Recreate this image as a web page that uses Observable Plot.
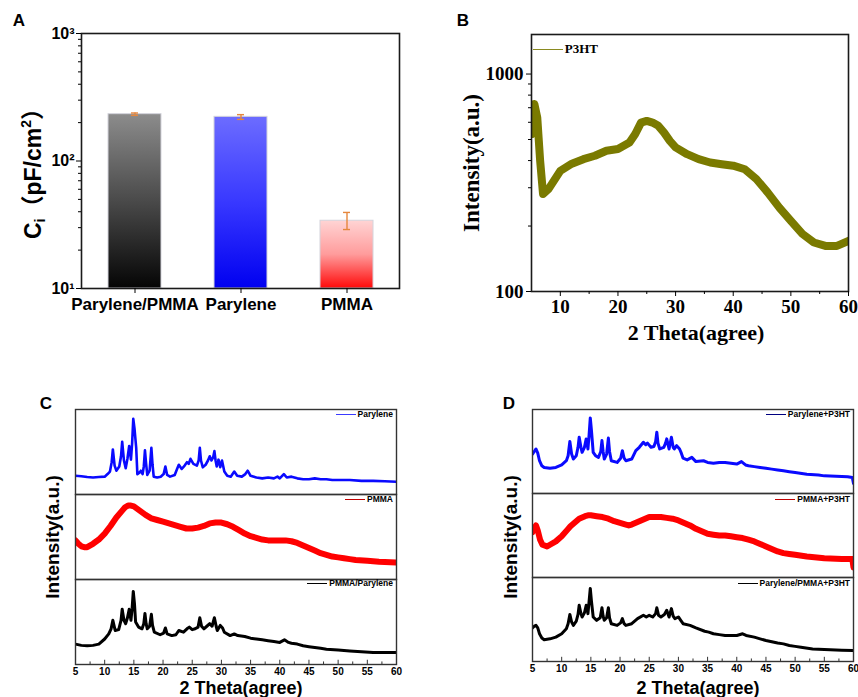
<!DOCTYPE html>
<html><head><meta charset="utf-8">
<script src="https://cdn.jsdelivr.net/npm/d3@7"></script>
<script src="https://cdn.jsdelivr.net/npm/@observablehq/plot@0.6"></script>
<style>
body{margin:0;background:#fff;}
#fig{position:relative;width:858px;height:697px;overflow:hidden;background:#fff;font-family:"Liberation Sans",Arial,"Noto Sans CJK SC",sans-serif;color:#000;}
.panel{position:absolute;}
.panel svg{overflow:visible;}
.lbl{position:absolute;white-space:nowrap;transform:translate(-50%,-50%);line-height:1;}
.rot{transform:translate(-50%,-50%) rotate(-90deg);}
.leg{position:absolute;display:flex;align-items:center;white-space:nowrap;transform:translateY(-50%);line-height:1;}
.leg i{display:inline-block;height:0;border-top-style:solid;border-top-width:1.6px;margin-right:2px;}
</style></head><body><div id="fig"></div>
<script>
// ---------- Panel A data ----------
const capCategories = ["Parylene/PMMA", "Parylene", "PMMA"];
const capValues = [233, 222, 34];
const capErrLow = [228, 212, 29];
const capErrHigh = [238, 231, 39.5];
const capMajorTicks = [10, 100, 1000];
const capTickLabels = ["10¹", "10²", "10³"];
const capMinorTicks = [20, 30, 40, 50, 60, 70, 80, 90, 200, 300, 400, 500, 600, 700, 800, 900];

// ---------- Panel B data (P3HT, 2θ in degrees, intensity a.u.) ----------
const p3htTheta = [5, 5.5, 6, 6.5, 7, 8, 10, 12, 14, 16, 18, 20, 22, 23, 24, 25, 26, 27, 28, 29, 30, 32, 34, 36, 38, 40, 42, 44, 46, 48, 50, 52, 54, 56, 58, 60];
const p3htIntensity = [530, 728, 631, 399, 281, 297, 359, 387, 406, 421, 444, 452, 484, 530, 598, 609, 598, 578, 538, 493, 460, 428, 406, 392, 385, 379, 365, 329, 285, 243, 211, 184, 168, 162, 162, 171];
const bMajorX = [10, 20, 30, 40, 50, 60];
const bMinorX = [15, 25, 35, 45, 55];
const bMajorY = [100, 1000];
const bMinorY = [200, 300, 400, 500, 600, 700, 800, 900];

// ---------- Panel C data (relative intensity within each stacked pane) ----------
const cParylene = [[5,0.22],[6,0.215],[7,0.205],[8,0.2],[9,0.205],[10,0.21],[10.5,0.24],[10.9,0.27],[11.2,0.38],[11.4,0.53],[11.7,0.34],[12,0.28],[12.5,0.33],[12.8,0.45],[13,0.62],[13.3,0.4],[13.6,0.31],[13.9,0.42],[14.2,0.57],[14.5,0.41],[14.7,0.6],[14.9,0.89],[15.1,0.78],[15.4,0.55],[15.6,0.24],[16,0.26],[16.2,0.28],[16.5,0.24],[16.7,0.33],[16.9,0.52],[17.1,0.36],[17.3,0.23],[17.7,0.28],[18,0.55],[18.2,0.35],[18.4,0.21],[19,0.2],[19.6,0.21],[20.1,0.24],[20.4,0.33],[20.7,0.23],[21.2,0.21],[22,0.23],[22.4,0.3],[22.7,0.35],[23.2,0.3],[23.7,0.34],[24.1,0.38],[24.4,0.36],[24.7,0.42],[25.2,0.36],[25.8,0.34],[26.1,0.4],[26.3,0.55],[26.5,0.4],[26.8,0.32],[27.3,0.35],[27.7,0.4],[28,0.45],[28.3,0.4],[28.6,0.44],[28.8,0.51],[29,0.4],[29.2,0.33],[29.5,0.41],[29.8,0.32],[30.1,0.4],[30.5,0.27],[31,0.22],[31.6,0.21],[32.2,0.27],[32.7,0.22],[33.5,0.21],[34.1,0.24],[34.5,0.28],[35,0.22],[36,0.2],[37,0.19],[38,0.2],[39,0.19],[39.6,0.21],[40,0.19],[40.7,0.24],[41.2,0.2],[42,0.21],[43,0.19],[44,0.18],[45,0.18],[46,0.19],[47,0.18],[48,0.18],[49,0.17],[50,0.17],[52,0.17],[54,0.16],[56,0.16],[58,0.155],[60,0.15]];
const cPMMA = [[5,0.46],[5.5,0.42],[6,0.39],[6.5,0.38],[7,0.38],[8,0.42],[9,0.47],[10,0.54],[11,0.63],[12,0.73],[13,0.81],[13.5,0.85],[14,0.87],[14.5,0.87],[15,0.86],[16,0.81],[17,0.76],[18,0.72],[19,0.7],[20,0.68],[21,0.66],[22,0.64],[23,0.62],[24,0.6],[25,0.6],[26,0.61],[27,0.63],[28,0.66],[29,0.67],[30,0.67],[31,0.65],[32,0.62],[33,0.58],[34,0.54],[35,0.51],[36,0.49],[37,0.47],[38,0.46],[39,0.46],[40,0.46],[41,0.46],[42,0.45],[43,0.43],[44,0.4],[45,0.37],[46,0.34],[47,0.31],[48,0.29],[49,0.27],[50,0.26],[51,0.25],[52,0.24],[53,0.23],[55,0.22],[57,0.21],[60,0.2]];
const cPMMAParylene = [[5,0.24],[6,0.225],[7,0.22],[8,0.225],[9,0.24],[10,0.3],[10.7,0.36],[11.1,0.42],[11.4,0.52],[11.8,0.4],[12.4,0.41],[12.8,0.52],[13,0.65],[13.3,0.52],[13.6,0.48],[13.9,0.55],[14.2,0.65],[14.5,0.52],[14.7,0.66],[14.9,0.86],[15.1,0.72],[15.3,0.5],[15.8,0.44],[16.4,0.42],[16.7,0.48],[16.9,0.6],[17.1,0.48],[17.3,0.42],[17.7,0.45],[18,0.59],[18.2,0.46],[18.5,0.38],[19.5,0.35],[20.1,0.37],[20.4,0.43],[20.7,0.36],[21.5,0.34],[22.2,0.35],[22.7,0.4],[23.5,0.38],[24.1,0.42],[24.5,0.44],[25,0.41],[25.5,0.42],[26,0.44],[26.3,0.55],[26.6,0.45],[27,0.42],[27.5,0.45],[28,0.48],[28.4,0.45],[28.8,0.55],[29.1,0.45],[29.3,0.4],[29.8,0.46],[30.2,0.43],[30.5,0.38],[31.5,0.34],[32.2,0.36],[32.8,0.34],[34,0.33],[35,0.31],[36,0.3],[37,0.29],[38,0.28],[39,0.27],[40,0.26],[40.8,0.29],[41.5,0.26],[42,0.25],[43,0.24],[44,0.22],[45,0.21],[46,0.2],[47,0.19],[48,0.18],[50,0.17],[52,0.16],[54,0.15],[56,0.14],[58,0.14],[60,0.14]];

// ---------- Panel D data ----------
const dParyleneP3HT = [[5,0.47],[5.3,0.5],[5.6,0.53],[5.9,0.48],[6.2,0.39],[6.6,0.33],[7,0.31],[8,0.3],[9,0.31],[10,0.34],[10.8,0.39],[11.1,0.45],[11.4,0.62],[11.7,0.47],[12,0.41],[12.5,0.45],[12.8,0.55],[13,0.67],[13.3,0.55],[13.5,0.49],[13.9,0.55],[14.2,0.65],[14.5,0.53],[14.7,0.7],[14.9,0.9],[15.1,0.75],[15.4,0.49],[15.8,0.45],[16.3,0.43],[16.7,0.5],[16.9,0.63],[17.1,0.5],[17.3,0.41],[17.7,0.47],[18,0.66],[18.2,0.5],[18.5,0.39],[19.5,0.37],[20.1,0.42],[20.4,0.51],[20.7,0.42],[21,0.39],[22,0.41],[22.7,0.51],[23.3,0.55],[24,0.61],[24.4,0.58],[24.7,0.6],[25.3,0.55],[25.8,0.56],[26.1,0.62],[26.3,0.73],[26.5,0.6],[26.8,0.53],[27.5,0.55],[27.8,0.6],[28,0.65],[28.4,0.53],[28.6,0.6],[28.8,0.67],[29.1,0.55],[29.3,0.53],[29.7,0.57],[30.2,0.53],[30.5,0.48],[30.8,0.42],[31.5,0.4],[32.3,0.43],[33,0.38],[34.3,0.39],[35,0.37],[36,0.36],[37,0.37],[38,0.37],[39,0.36],[40,0.35],[40.8,0.38],[41.5,0.34],[42,0.33],[43,0.32],[44,0.31],[45,0.3],[46,0.29],[47,0.28],[48,0.27],[49,0.26],[50,0.25],[52,0.23],[54,0.22],[55,0.21],[57,0.205],[59,0.2],[59.8,0.19],[60,0.12]];
const dPMMAP3HT = [[5,0.54],[5.3,0.59],[5.6,0.62],[5.9,0.56],[6.3,0.45],[6.7,0.39],[7.5,0.37],[8,0.39],[9,0.43],[10,0.49],[11,0.57],[11.5,0.61],[12,0.64],[13,0.7],[14,0.73],[14.5,0.74],[15,0.74],[16,0.73],[17,0.72],[18,0.7],[19,0.67],[20,0.65],[21,0.63],[21.5,0.62],[22,0.63],[23,0.66],[24,0.69],[25,0.72],[26,0.72],[27,0.72],[28,0.71],[29,0.7],[30,0.68],[31,0.65],[32,0.62],[33,0.58],[34,0.55],[35,0.52],[36,0.51],[37,0.5],[38,0.5],[39,0.49],[40,0.48],[41,0.47],[42,0.45],[43,0.43],[44,0.4],[45,0.37],[46,0.34],[47,0.31],[48,0.29],[49,0.28],[50,0.27],[52,0.25],[55,0.23],[58,0.22],[59.8,0.22],[60,0.12]];
const dMixP3HT = [[5,0.4],[5.3,0.42],[5.6,0.43],[5.9,0.4],[6.2,0.33],[6.6,0.28],[7,0.26],[8,0.27],[9,0.29],[10,0.33],[10.8,0.39],[11.1,0.45],[11.4,0.56],[11.7,0.47],[12,0.43],[12.5,0.48],[12.8,0.56],[13,0.67],[13.3,0.57],[13.5,0.53],[13.9,0.58],[14.2,0.67],[14.5,0.57],[14.7,0.72],[14.9,0.87],[15.1,0.72],[15.4,0.53],[16,0.49],[16.6,0.52],[16.9,0.64],[17.1,0.54],[17.3,0.49],[17.7,0.52],[18,0.64],[18.2,0.52],[18.5,0.45],[19.5,0.43],[20.1,0.46],[20.4,0.51],[20.7,0.45],[21,0.43],[22,0.45],[23,0.51],[24,0.55],[24.5,0.53],[25,0.55],[25.6,0.53],[26.1,0.57],[26.3,0.64],[26.6,0.55],[27,0.53],[27.6,0.56],[28,0.61],[28.4,0.53],[28.8,0.63],[29.1,0.54],[29.4,0.51],[30,0.53],[30.4,0.49],[30.8,0.45],[32,0.43],[33,0.4],[34.5,0.36],[35.2,0.35],[36,0.33],[37,0.32],[38,0.31],[39,0.31],[40,0.31],[41,0.33],[41.6,0.31],[43,0.29],[44,0.27],[45,0.25],[46,0.235],[47,0.22],[48,0.21],[49,0.19],[50,0.18],[51,0.17],[53,0.15],[56,0.14],[58,0.135],[60,0.13]];
const xMajorCD = [5, 10, 15, 20, 25, 30, 35, 40, 45, 50, 55, 60];
const xMinorCD = [7.5, 12.5, 17.5, 22.5, 27.5, 32.5, 37.5, 42.5, 47.5, 52.5, 57.5];

// ---------- helpers ----------
const fig = document.getElementById("fig");
const SANS = '"Liberation Sans", Arial, "Noto Sans CJK SC", sans-serif';
const SERIF = '"Liberation Serif", "Times New Roman", serif';
function place(node, left, top) {
  const d = document.createElement("div");
  d.className = "panel"; d.style.left = left + "px"; d.style.top = top + "px";
  d.appendChild(node); fig.appendChild(d);
}
function label(html, cx, cy, font, rotate) {
  const d = document.createElement("div");
  d.className = "lbl" + (rotate ? " rot" : "");
  d.style.left = cx + "px"; d.style.top = cy + "px"; d.style.font = font;
  d.innerHTML = html; fig.appendChild(d);
}
function legendItem(text, rightX, cy, color, font, lineLen) {
  const d = document.createElement("div");
  d.className = "leg";
  d.style.right = (858 - rightX) + "px"; d.style.top = cy + "px"; d.style.font = font;
  const i = document.createElement("i"); i.style.width = lineLen + "px"; i.style.borderTopColor = color;
  d.appendChild(i); d.appendChild(document.createTextNode(text)); fig.appendChild(d);
}
function addGradients(svgEl, grads) {
  const ns = "http://www.w3.org/2000/svg";
  const defs = document.createElementNS(ns, "defs");
  for (const g of grads) {
    const lg = document.createElementNS(ns, "linearGradient");
    lg.setAttribute("id", g.id);
    lg.setAttribute("x1", "0"); lg.setAttribute("y1", "0"); lg.setAttribute("x2", "0"); lg.setAttribute("y2", "1");
    g.stops.forEach((c, k) => {
      const s = document.createElementNS(ns, "stop");
      s.setAttribute("offset", (k / (g.stops.length - 1)).toString());
      s.setAttribute("stop-color", c);
      lg.appendChild(s);
    });
    defs.appendChild(lg);
  }
  svgEl.insertBefore(defs, svgEl.firstChild);
}

// ---------- Panel A ----------
const barGradients = [
  {id: "gradGray", stops: ["#8c8c8c", "#4a4a4a", "#050505"]},
  {id: "gradBlue", stops: ["#6c6cff", "#3838ff", "#0000f0"]},
  {id: "gradRed", stops: ["#ffd4d4", "#ff9c9c", "#ff0a0a"]}
];
const errColor = "#e5873d";
const capRows = capCategories.map((cat, i) => ({cat, v: capValues[i], lo: capErrLow[i], hi: capErrHigh[i]}));
const plotA = Plot.plot({
  width: 430, height: 320, marginLeft: 81, marginRight: 31, marginTop: 33, marginBottom: 32,
  style: {fontFamily: SANS, fontWeight: "bold", color: "#000", background: "transparent", overflow: "visible"},
  x: {domain: capCategories, paddingInner: 0.5, paddingOuter: 0.25, axis: null},
  y: {type: "log", domain: [10, 1000], axis: null},
  marks: [
    ...capRows.map((r, i) => Plot.barY([r], {x: "cat", y1: 10, y2: "v", fill: `url(#${barGradients[i].id})`, stroke: "#d4d4dc", strokeWidth: 1})),
    Plot.ruleX(capRows, {x: "cat", y1: "lo", y2: "hi", stroke: errColor, strokeWidth: 1.4}),
    Plot.tickY(capRows, {x: "cat", y: "lo", stroke: errColor, strokeWidth: 1.4, insetLeft: 23, insetRight: 23}),
    Plot.tickY(capRows, {x: "cat", y: "hi", stroke: errColor, strokeWidth: 1.4, insetLeft: 23, insetRight: 23}),
    Plot.frame({stroke: "#1a1a1a", strokeWidth: 1.6}),
    Plot.axisY({ticks: capMajorTicks, tickFormat: d => capTickLabels[capMajorTicks.indexOf(d)], tickSize: 5, tickPadding: 2, fontSize: 16, label: null}),
    Plot.axisY({ticks: capMinorTicks, tickFormat: () => "", tickSize: 3, label: null}),
    Plot.axisX({tickSize: 5, tickPadding: 4, fontSize: 17, label: null})
  ]
});
addGradients(plotA, barGradients);
place(plotA, 0, 0);
label("C<sub style='font-size:14px;vertical-align:-4px'>i</sub>（pF/cm<sup style='font-size:14px;vertical-align:10px'>2</sup>）", 31, 168, `bold 23px ${SANS}`, true);

// ---------- Panel B ----------
const p3htRows = p3htTheta.map((t, i) => ({t, v: p3htIntensity[i]}));
const plotB = Plot.plot({
  width: 428, height: 350, marginLeft: 101, marginRight: 10, marginTop: 34, marginBottom: 59,
  style: {fontFamily: SERIF, fontWeight: "bold", color: "#000", background: "transparent", overflow: "visible"},
  x: {domain: [5, 60], axis: null},
  y: {type: "log", domain: [100, 1520], axis: null},
  marks: [
    Plot.line(p3htRows, {x: "t", y: "v", stroke: "#7a7a00", strokeWidth: 8, clip: true}),
    Plot.frame({stroke: "#1a1a1a", strokeWidth: 1.6}),
    Plot.axisX({ticks: bMajorX, tickSize: 5, tickPadding: 3, fontSize: 19, tickFormat: d => String(d), label: null}),
    Plot.axisX({ticks: bMinorX, tickSize: 3, tickFormat: () => "", label: null}),
    Plot.axisY({ticks: bMajorY, tickSize: 5, tickPadding: 3, fontSize: 19, tickFormat: d => String(d), label: null}),
    Plot.axisY({ticks: bMinorY, tickSize: 3, tickFormat: () => "", label: null})
  ]
});
place(plotB, 430, 0);
label("Intensity(a.u.)", 472, 163, `bold 23px ${SERIF}`, true);
label("2 Theta(agree)", 696, 333, `bold 22px ${SERIF}`, false);
legendItem("P3HT", 598, 49, "#8a8a20", `bold 13px ${SERIF}`, 30);

// ---------- Panels C & D (stacked XRD patterns) ----------
function stackPlot(series, dims) {
  const rows = series.flatMap(s => s.data.map(([t, v]) => ({s: s.name, t, v})));
  const lastName = series[series.length - 1].name;
  return Plot.plot({
    width: dims.width, height: dims.height,
    marginLeft: dims.ml, marginRight: dims.mr, marginTop: dims.mt, marginBottom: dims.mb,
    style: {fontFamily: SANS, fontWeight: "bold", color: "#000", background: "transparent", overflow: "visible"},
    x: {domain: [5, 60], axis: null},
    y: {domain: [0, 1], axis: null},
    fy: {domain: series.map(s => s.name), axis: null, padding: 0, label: null},
    marks: [
      ...series.map(s => Plot.line(rows, {filter: d => d.s === s.name, x: "t", y: "v", fy: "s", stroke: s.color, strokeWidth: s.width, clip: true})),
      Plot.frame({stroke: "#333", strokeWidth: 1.4}),
      Plot.ruleX(xMajorCD, {x: d => d, y1: 0, y2: 0.05, fy: () => lastName, stroke: "#333", strokeWidth: 1}),
      Plot.ruleX(xMinorCD, {x: d => d, y1: 0, y2: 0.03, fy: () => lastName, stroke: "#333", strokeWidth: 1}),
      Plot.axisX({ticks: xMajorCD, tickSize: 0, tickPadding: 3, fontSize: 10, tickFormat: d => String(d), label: null})
    ]
  });
}
const plotC = stackPlot([
  {name: "Parylene", data: cParylene, color: "#0a0aff", width: 2.6},
  {name: "PMMA", data: cPMMA, color: "#ff0000", width: 6},
  {name: "PMMA/Parylene", data: cPMMAParylene, color: "#000000", width: 3}
], {width: 430, height: 317, ml: 75, mr: 34, mt: 28, mb: 33});
place(plotC, 0, 380);

const plotD = stackPlot([
  {name: "Parylene+P3HT", data: dParyleneP3HT, color: "#0a0aff", width: 3},
  {name: "PMMA+P3HT", data: dPMMAP3HT, color: "#ff0000", width: 6},
  {name: "Parylene/PMMA+P3HT", data: dMixP3HT, color: "#000000", width: 3}
], {width: 428, height: 317, ml: 102, mr: 5, mt: 29, mb: 36});
place(plotD, 430, 380);

const legFont = `bold 8.5px ${SANS}`;
legendItem("Parylene", 393, 414, "#3a3aff", legFont, 20);
legendItem("PMMA", 393, 499, "#c00000", legFont, 20);
legendItem("PMMA/Parylene", 393, 583, "#000", legFont, 20);
legendItem("Parylene+P3HT", 850, 414, "#000080", legFont, 20);
legendItem("PMMA+P3HT", 850, 499, "#c00000", legFont, 20);
legendItem("Parylene/PMMA+P3HT", 850, 583, "#000", legFont, 20);

label("Intensity(a.u.)", 53, 537, `bold 19px ${SANS}`, true);
label("2 Theta(agree)", 241, 688, `bold 18px ${SANS}`, false);
label("Intensity(a.u.)", 511, 537, `bold 19px ${SANS}`, true);
label("2 Theta(agree)", 698, 688, `bold 18px ${SANS}`, false);

// ---------- panel letters ----------
label("A", 19, 21, `bold 17px ${SANS}`, false);
label("B", 463, 21, `bold 17px ${SANS}`, false);
label("C", 46, 404, `bold 17px ${SANS}`, false);
label("D", 509, 404, `bold 17px ${SANS}`, false);
</script></body></html>
